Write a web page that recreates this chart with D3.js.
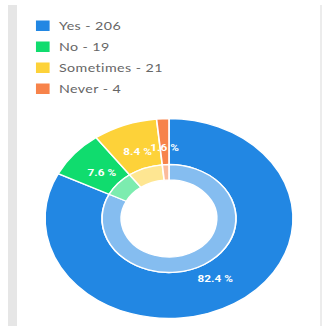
<!DOCTYPE html>
<html>
<head>
<meta charset="utf-8">
<script src="https://cdn.jsdelivr.net/npm/d3@7"></script>
<style>
  html, body { margin: 0; padding: 0; background: #fff; }
  svg { display: block; }
</style>
</head>
<body>
<svg id="chart" width="324" height="326"></svg>
<script>
// Survey answers
const categories = ["Yes", "No", "Sometimes", "Never"];
const counts = [206, 19, 21, 4];
const colors = ["#2287e3", "#10dc6e", "#fdd239", "#f7834a"];

const W = 324, H = 326;
const sx = 1.24;               // horizontal stretch of the card
const svg = d3.select("#chart");

// card frame
svg.append("rect").attr("x", 8).attr("y", 5).attr("width", 9).attr("height", H - 5).attr("fill", "#e6e6e6");
svg.append("rect").attr("x", 320).attr("y", 5).attr("width", 2).attr("height", H - 5).attr("fill", "#ececec");

const g = svg.append("g").attr("transform", `scale(${sx},1)`);

// legend
const legend = g.append("g").attr("transform", "translate(29,20.5)");
const rows = legend.selectAll("g").data(categories).join("g")
  .attr("transform", (d, i) => `translate(0,${i * 21})`);
rows.append("rect").attr("width", 11).attr("height", 10.5).attr("fill", (d, i) => colors[i]);
rows.append("text")
  .attr("x", 18.5).attr("y", 5.5).attr("dy", "0.35em")
  .attr("font-family", "Lato, 'Open Sans', sans-serif")
  .attr("font-size", 11.5).attr("fill", "#666")
  .attr("letter-spacing", 0.35)
  .text((d, i) => `${d} - ${counts[i]}`);

// donut
const total = d3.sum(counts);
const data = categories.map((c, i) => ({ cat: c, value: counts[i], color: colors[i] }));
const pie = d3.pie().value(d => d.value).sort(null);
const arcs = pie(data);

const cx = 169 / sx, cy = 218.5;
const rOuter = 100, rRing = 54, rHole = 38.5;

const donut = g.append("g").attr("transform", `translate(${cx},${cy})`);
const outerArc = d3.arc().innerRadius(rRing).outerRadius(rOuter);
const innerArc = d3.arc().innerRadius(rHole).outerRadius(rRing);

donut.selectAll("path.outer").data(arcs).join("path")
  .attr("class", "outer")
  .attr("d", outerArc)
  .attr("fill", d => d.data.color)
  .attr("stroke", "#fff").attr("stroke-width", 1.3);

donut.selectAll("path.inner").data(arcs).join("path")
  .attr("class", "inner")
  .attr("d", innerArc)
  .attr("fill", d => d3.interpolateRgb(d.data.color, "#fff")(0.45))
  .attr("stroke", "#fff").attr("stroke-width", 1.3);

// percentage labels
const labelArc = d3.arc().innerRadius(71).outerRadius(71);
const fmt = v => (v / total * 100).toFixed(1) + " %";
const labels = arcs.map(d => {
  const [x, y] = labelArc.centroid(d);
  return { x, y, text: fmt(d.data.value), w: 21 };
});
// push overlapping neighbours apart leftward
for (let i = labels.length - 1; i > 0; i--) {
  const a = labels[i - 1], b = labels[i];
  if (Math.abs(a.y - b.y) < 10 && a.x + a.w / 2 > b.x - b.w / 2) {
    a.x = b.x - b.w - 1;
    a.y = b.y;
  }
}
donut.selectAll("text.lbl").data(labels).join("text")
  .attr("class", "lbl")
  .attr("x", d => d.x).attr("y", d => d.y)
  .attr("dy", "0.35em")
  .attr("text-anchor", "middle")
  .attr("font-family", "Roboto, 'Open Sans', sans-serif")
  .attr("font-weight", "bold")
  .attr("font-size", 9.5)
  .attr("fill", "#fff")
  .text(d => d.text);
</script>
</body>
</html>
